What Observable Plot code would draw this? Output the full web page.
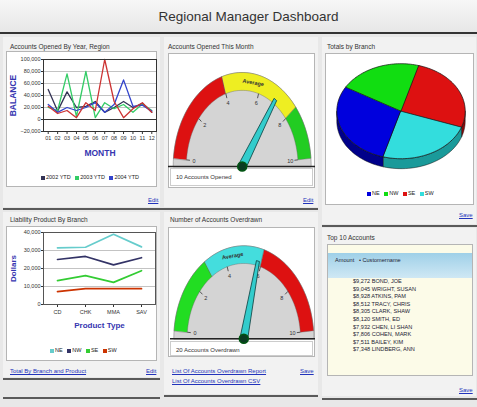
<!DOCTYPE html>
<html><head><meta charset="utf-8">
<script src="https://cdn.jsdelivr.net/npm/d3@7"></script>
<script src="https://cdn.jsdelivr.net/npm/@observablehq/plot@0.6"></script>
<style>
html,body{margin:0;padding:0;}
body{width:477px;height:407px;position:relative;overflow:hidden;background:#e8e8e8;font-family:"Liberation Sans",Arial,sans-serif;color:#333;}
.a{position:absolute;line-height:1;white-space:nowrap;}
#title{left:10px;top:10px;width:477px;text-align:center;font-size:13.5px;color:#333;}
.bg{position:absolute;}
.ptitle{font-size:6.5px;color:#333;}
.box{position:absolute;background:#fff;border:1px solid #b5b5b5;box-sizing:border-box;}
.link{font-size:6px;color:#2233bb;text-decoration:underline;}
.legend{font-size:5.5px;color:#222;}
.sw{display:inline-block;width:4px;height:4px;margin:0 1px 0 3px;vertical-align:-0.5px;}
.sep{position:absolute;height:1.5px;background:#5a5a5a;}
.svgwrap{position:absolute;}
#list{font-size:5.6px;color:#223;}
</style></head><body>
<div class="bg" style="left:0;top:0;width:477px;height:33px;background:linear-gradient(#f7f7f7,#e6e6e6)"></div>
<div class="a" id="title">Regional Manager Dashboard</div>
<div class="sep" style="left:0;top:32px;width:477px;height:2px;background:#333"></div>
<div class="bg" style="left:3px;top:37px;width:157px;height:170px;background:#f2f2f2"></div>
<div class="bg" style="left:164px;top:37px;width:154px;height:170px;background:#f2f2f2"></div>
<div class="bg" style="left:322px;top:37px;width:154px;height:187px;background:#f2f2f2"></div>
<div class="bg" style="left:3px;top:212px;width:157px;height:165px;background:#f2f2f2"></div>
<div class="bg" style="left:164px;top:212px;width:154px;height:182px;background:#f2f2f2"></div>
<div class="bg" style="left:322px;top:228px;width:154px;height:168px;background:#f2f2f2"></div>

<div class="a ptitle" style="left:10px;top:44px">Accounts Opened By Year, Region</div>
<div class="a ptitle" style="left:168px;top:44px">Accounts Opened This Month</div>
<div class="a ptitle" style="left:327px;top:44px">Totals by Branch</div>
<div class="a ptitle" style="left:10px;top:217px">Liability Product By Branch</div>
<div class="a ptitle" style="left:170px;top:217px">Number of Accounts Overdrawn</div>
<div class="a ptitle" style="left:327px;top:235px">Top 10 Accounts</div>

<div class="box" style="left:6px;top:51px;width:151px;height:136px"></div>
<div class="box" style="left:168px;top:53px;width:147px;height:135px"></div>
<div class="box" style="left:325px;top:53px;width:149px;height:152px"></div>
<div class="box" style="left:6px;top:226px;width:151px;height:135px"></div>
<div class="box" style="left:168px;top:227px;width:147px;height:130px"></div>
<div class="box" style="left:327px;top:244px;width:146px;height:132px;background:#fcfbe8"></div>
<div class="bg" style="left:328px;top:253px;width:144px;height:25px;background:linear-gradient(#9fd0e8,#cfe8f4)"></div>
<div class="a" style="left:335px;top:258px;font-size:5.6px;color:#223">Amount &nbsp;&nbsp;&#8226; Customername</div>
<div class="a" id="list" style="left:353px;top:279px"></div>

<div class="box" style="left:170px;top:168px;width:143px;height:18px;border-color:#ccc"></div>
<div class="a" style="left:176px;top:174px;font-size:6px;color:#333">10 Accounts Opened</div>
<div class="box" style="left:170px;top:341px;width:143px;height:15px;border-color:#ccc"></div>
<div class="a" style="left:176px;top:347px;font-size:6px;color:#333">20 Accounts Overdrawn</div>

<div class="a legend" id="leg1" style="left:38px;top:175px"></div>
<div class="a legend" id="leg3" style="left:364px;top:191px"></div>
<div class="a legend" id="leg4" style="left:47px;top:348px"></div>

<div class="a link" style="left:148px;top:197px">Edit</div>
<div class="a link" style="left:303px;top:197px">Edit</div>
<div class="a link" style="left:459px;top:212px">Save</div>
<div class="a link" style="left:10px;top:368px">Total By Branch and Product</div>
<div class="a link" style="left:146px;top:368px">Edit</div>
<div class="a link" style="left:172px;top:368px">List Of Accounts Overdrawn Report</div>
<div class="a link" style="left:172px;top:378px">List Of Accounts Overdrawn CSV</div>
<div class="a link" style="left:300px;top:368px">Save</div>
<div class="a link" style="left:459px;top:387px">Save</div>

<div class="sep" style="left:3px;top:208px;width:315px"></div>
<div class="sep" style="left:322px;top:225px;width:155px"></div>
<div class="sep" style="left:3px;top:378px;width:157px"></div>
<div class="sep" style="left:3px;top:397px;width:157px"></div>
<div class="sep" style="left:164px;top:395px;width:154px"></div>
<div class="sep" style="left:322px;top:398px;width:155px"></div>

<div class="svgwrap" id="c1" style="left:0;top:52px"></div>
<div class="svgwrap" id="c2" style="left:168px;top:60px"></div>
<div class="svgwrap" id="c3" style="left:327px;top:55px"></div>
<div class="svgwrap" id="c4" style="left:0;top:225px"></div>
<div class="svgwrap" id="c5" style="left:170px;top:235px"></div>

<script>
// ---------- DATA ----------
const months = [1,2,3,4,5,6,7,8,9,10,11,12];
const monthLabels = ["01","02","03","04","05","06","07","08","09","10","11","12"];
const balanceTicks = [-20000,0,20000,40000,60000,80000,100000];
const series1Names = ["2002 YTD","2003 YTD","2004 YTD","Target"];
const ytd2002 = [50000,14000,46000,20000,22000,30000,12000,20000,30000,20000,27000,12000];
const ytd2003 = [20000,15000,76000,5000,80000,3000,28000,18000,25000,12000,26000,15000];
const ytd2004 = [25000,12000,20000,15000,20000,28000,12000,25000,66000,22000,24000,14000];
const target  = [22000,10000,15000,3000,28000,15000,100000,30000,3000,18000,28000,12000];
const legend1Names = ["2002 YTD","2003 YTD","2004 YTD"];

const gauge1Ticks = [0,2,4,6,8,10];
const gauge1Thresholds = [0,4,8,10];
const gauge1Value = 7;
const gauge1Label = "Average";

const branches = ["NE","NW","SE","SW"];
const branchTotals = [29,21,26,24];

const productTypes = ["CD","CHK","MMA","SAV"];
const dollarTicks = [0,10000,20000,30000,40000];
const prodNE = [31500,31800,39000,32000];
const prodNW = [25000,26700,22000,26000];
const prodSE = [13300,16000,12300,18800];
const prodSW = [7200,8800,8800,8800];

const gauge2Ticks = [0,2,4,6,8,10];
const gauge2Thresholds = [0,3,6,10];
const gauge2Value = 5.8;
const gauge2Label = "Average";

const topAmounts = ["$9,272","$9,045","$8,928","$8,512","$8,305","$8,120","$7,932","$7,806","$7,511","$7,348"];
const topNames = ["BOND, JOE","WRIGHT, SUSAN","ATKINS, PAM","TRACY, CHRIS","CLARK, SHAW","SMITH, ED","CHEN, LI SHAN","COHEN, MARK","BAILEY, KIM","LINDBERG, ANN"];

// ---------- STYLES ----------
const s1Colors = ["#333355","#33cc66","#3344cc","#cc3333"];
const gauge1Colors = ["#dd1111","#eeee22","#22cc22"];
const gauge2Colors = ["#22dd22","#44dddd","#dd1111"];
const pieTop = ["#0000dd","#11dd11","#dd1111","#33dddd"];
const pieSide = ["#00008a","#0a8a0a","#8a0a0a","#1a9a9a"];
const prodColors = ["#66cccc","#333366","#33cc33","#cc3300"];
const font = "Liberation Sans, Arial, sans-serif";
const baseStyle = {fontFamily: font, fontSize: "6px", background: "transparent", overflow: "visible", color:"#333"};

// ---------- CHART 1 ----------
const s1Values = [ytd2002, ytd2003, ytd2004, target];
const rows1 = [];
s1Values.forEach((vals, k) => vals.forEach((v, i) => rows1.push({month: months[i], value: v, series: series1Names[k]})));
document.getElementById("c1").append(Plot.plot({
  width: 160, height: 110, marginLeft: 43, marginRight: 4, marginTop: 7, marginBottom: 31,
  style: baseStyle,
  x: {domain: [0.5, 12.5]},
  y: {domain: [-20000, 100000]},
  color: {domain: series1Names, range: s1Colors},
  marks: [
    Plot.gridY(balanceTicks, {stroke: "#888", strokeOpacity: 0.5}),
    Plot.ruleY([0], {stroke: "#333"}),
    Plot.axisY({ticks: balanceTicks, tickFormat: d3.format(","), tickSize: 2, tickPadding: 1, label: null, fontSize: 5.5}),
    Plot.axisX({ticks: months, tickFormat: d => monthLabels[d - 1], tickSize: 3, tickPadding: 2, label: null, fontSize: 5.5}),
    Plot.lineY(rows1, {x: "month", y: "value", stroke: "series", strokeWidth: 1.3}),
    Plot.frame({stroke: "#333"}),
    Plot.text(["MONTH"], {text: d => d, frameAnchor: "bottom", dy: 24, fill: "#3535b0", fontWeight: "bold", fontSize: 8.5}),
    Plot.text(["BALANCE"], {text: d => d, frameAnchor: "left", textAnchor: "middle", dx: -30, rotate: -90, fill: "#3535b0", fontWeight: "bold", fontSize: 8.5})
  ]
}));

function legend(id, names, colors) {
  document.getElementById(id).innerHTML = names.map((n, i) =>
    `<span class="sw" style="background:${colors[i]}"></span>${n}`).join(" ");
}
legend("leg1", legend1Names, s1Colors);

// ---------- GAUGE ----------
function arcPts(r, a0, a1, n = 30) {
  return d3.range(n + 1).map(i => {
    const a = (a0 + (a1 - a0) * i / n) * Math.PI / 180;
    return [r * Math.cos(a), r * Math.sin(a)];
  });
}
function gauge(el, {width, height, cx, cy, rx, ry, thresholds, colors, value, ticks, label}) {
  const ang = v => 175 - v / 10 * 170;
  const rad = d => d * Math.PI / 180;
  const bg = arcPts(1, 180, 0, 60).map(([x, y]) => ({id: "bg", x, y}));
  const bands = [];
  thresholds.slice(0, -1).forEach((t, i) => {
    const a0 = ang(t), a1 = ang(thresholds[i + 1]);
    arcPts(1, a0, a1).concat(arcPts(0.81, a1, a0)).forEach(([x, y]) => bands.push({id: "b" + i, fill: colors[i], x, y}));
  });
  const a = rad(ang(value)), ux = Math.cos(a), uy = Math.sin(a), px = -uy, py = ux;
  const L = 0.86, w0 = 0.055, w1 = 0.022;
  const needle = [[w0 * px, w0 * py], [L * ux + w1 * px, L * uy + w1 * py], [L * ux - w1 * px, L * uy - w1 * py], [-w0 * px, -w0 * py]]
    .map(([x, y]) => ({x, y}));
  const labelAng = ang(label.at);
  el.append(Plot.plot({
    width, height, margin: 0, style: baseStyle,
    x: {domain: [-cx / rx, (width - cx) / rx], axis: null},
    y: {domain: [(cy - height) / ry, cy / ry], axis: null},
    color: {type: "identity"},
    marks: [
      Plot.line(bg, {x: "x", y: "y", z: "id", fill: "#d4d4d4", stroke: "#8a8a8a", strokeWidth: 0.6, curve: "linear-closed"}),
      Plot.line(bands, {x: "x", y: "y", z: "id", fill: "fill", stroke: "#666", strokeWidth: 0.4, curve: "linear-closed"}),
      Plot.link(ticks, {x1: v => 0.81 * Math.cos(rad(ang(v))), y1: v => 0.81 * Math.sin(rad(ang(v))),
        x2: v => 0.76 * Math.cos(rad(ang(v))), y2: v => 0.76 * Math.sin(rad(ang(v))), stroke: "#333", strokeWidth: 0.8}),
      Plot.text(ticks, {x: v => 0.7 * Math.cos(rad(ang(v))), y: v => 0.7 * Math.sin(rad(ang(v))), text: d => String(d), fontSize: 5.5, fill: "#333"}),
      Plot.text([label.text], {text: d => d, x: () => 0.905 * Math.cos(rad(labelAng)), y: () => 0.905 * Math.sin(rad(labelAng)),
        rotate: 90 - labelAng, fontSize: 5.5, fontWeight: "bold", fill: "#333"}),
      Plot.ruleY([0], {stroke: "#222", strokeWidth: 1.5}),
      Plot.line(needle, {x: "x", y: "y", fill: "#33cccc", stroke: "#0d3d3d", strokeWidth: 0.8, curve: "linear-closed"}),
      Plot.dot([{x: 0, y: 0}], {x: "x", y: "y", r: 4.5, fill: "#0b3b22", stroke: "#051"})
    ]
  }));
}
gauge(document.getElementById("c2"), {width: 147, height: 112, cx: 73.7, cy: 106, rx: 69, ry: 94,
  thresholds: gauge1Thresholds, colors: gauge1Colors, value: gauge1Value, ticks: gauge1Ticks, label: {text: gauge1Label, at: 5.6}});
gauge(document.getElementById("c5"), {width: 145, height: 108, cx: 73.3, cy: 103.3, rx: 70, ry: 93,
  thresholds: gauge2Thresholds, colors: gauge2Colors, value: gauge2Value, ticks: gauge2Ticks, label: {text: gauge2Label, at: 4.4}});

// ---------- PIE ----------
(function () {
  const width = 147, height = 125, cx = 73.5, cy = 55.7, rx = 64.2, ry = 47.5, depth = 0.21;
  const total = d3.sum(branchTotals);
  let start = 254;
  const sides = [], tops = [];
  branchTotals.forEach((v, i) => {
    const a0 = start, a1 = start - v / total * 360;
    start = a1;
    [{x: 0, y: 0}].concat(arcPts(1, a0, a1, 40).map(([x, y]) => ({x, y}))).forEach(p => tops.push({...p, id: "t" + i, fill: pieTop[i]}));
    for (const m of [-1, 0, 1]) {
      const lo = Math.max(a1, -180 + 360 * m), hi = Math.min(a0, 360 * m);
      if (lo < hi) {
        const top = arcPts(1, hi, lo, 30), bot = arcPts(1, lo, hi, 30).map(([x, y]) => [x, y - depth]);
        top.concat(bot).forEach(([x, y]) => sides.push({x, y, id: "s" + i + "_" + m, fill: pieSide[i]}));
      }
    }
  });
  document.getElementById("c3").append(Plot.plot({
    width, height, margin: 0, style: baseStyle,
    x: {domain: [-cx / rx, (width - cx) / rx], axis: null},
    y: {domain: [(cy - height) / ry, cy / ry], axis: null},
    color: {type: "identity"},
    marks: [
      Plot.line(sides, {x: "x", y: "y", z: "id", fill: "fill", stroke: "#111", strokeWidth: 0.5, curve: "linear-closed"}),
      Plot.line(tops, {x: "x", y: "y", z: "id", fill: "fill", stroke: "#111", strokeWidth: 0.7, curve: "linear-closed"})
    ]
  }));
  legend("leg3", branches, pieTop);
})();

// ---------- CHART 4 ----------
const prodSeries = [prodNE, prodNW, prodSE, prodSW];
const rows4 = [];
prodSeries.forEach((vals, k) => vals.forEach((v, i) => rows4.push({type: productTypes[i], value: v, branch: branches[k]})));
document.getElementById("c4").append(Plot.plot({
  width: 160, height: 110, marginLeft: 43, marginRight: 5, marginTop: 7, marginBottom: 31,
  style: baseStyle,
  x: {type: "point", domain: productTypes, padding: 0.5},
  y: {domain: [0, 40000]},
  color: {domain: branches, range: prodColors},
  marks: [
    Plot.gridY(dollarTicks, {stroke: "#888", strokeOpacity: 0.5}),
    Plot.axisY({ticks: dollarTicks, tickFormat: d3.format(","), tickSize: 2, tickPadding: 1, label: null, fontSize: 5.5}),
    Plot.axisX({tickSize: 3, tickPadding: 3, label: null, fontSize: 5.5}),
    Plot.line(rows4, {x: "type", y: "value", stroke: "branch", strokeWidth: 1.7}),
    Plot.frame({stroke: "#555"}),
    Plot.text(["Product Type"], {text: d => d, frameAnchor: "bottom", dy: 23, fill: "#3535b0", fontWeight: "bold", fontSize: 8}),
    Plot.text(["Dollars"], {text: d => d, frameAnchor: "left", textAnchor: "middle", dx: -30, rotate: -90, fill: "#3535b0", fontWeight: "bold", fontSize: 8})
  ]
}));
legend("leg4", branches, prodColors);

// ---------- TOP 10 ----------
document.getElementById("list").innerHTML = topAmounts.map((a, i) =>
  `<div style="height:7.6px">${a} ${topNames[i]}</div>`).join("");
</script>
</body></html>
